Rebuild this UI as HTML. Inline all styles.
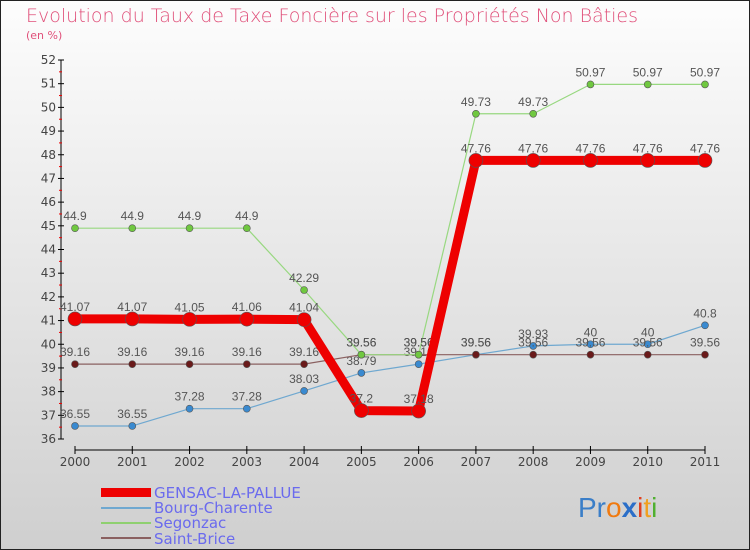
<!DOCTYPE html>
<html><head><meta charset="utf-8"><style>
body{margin:0;width:750px;height:550px;overflow:hidden;font-family:"DejaVu Sans","Liberation Sans",sans-serif}
svg{display:block}
</style></head><body>
<svg id="c" width="750" height="550">
<defs><linearGradient id="bg" x1="0" y1="0" x2="0" y2="1"><stop offset="0" stop-color="#fdfdfd"/><stop offset="1" stop-color="#cfcfcf"/></linearGradient></defs>
<rect x="0" y="0" width="750" height="550" fill="url(#bg)" stroke="#222" stroke-width="2"/>
<text x="26" y="22" font-size="19" fill="#e0507a" font-weight="300">Evolution du Taux de Taxe Foncière sur les Propriétés Non Bâties</text>
<text x="26" y="39" font-size="11" fill="#e0507a">(en %)</text>
<g id="axes"></g><g id="series"></g>
<g>
<rect x="101" y="488" width="50" height="9" fill="#ee0000"/>
<text x="154" y="498" font-size="15" fill="#6a6aee">GENSAC-LA-PALLUE</text>
<rect x="101" y="507" width="50" height="2" fill="#6fa8d0"/>
<text x="154" y="513" font-size="15" fill="#6a6aee">Bourg-Charente</text>
<rect x="101" y="522" width="50" height="2" fill="#8fd070"/>
<text x="154" y="528" font-size="15" fill="#6a6aee">Segonzac</text>
<rect x="101" y="537" width="50" height="2" fill="#8a6060"/>
<text x="154" y="544" font-size="15" fill="#6a6aee">Saint-Brice</text>
</g>
<text x="578" y="517" font-size="28" font-family="Liberation Sans,sans-serif"><tspan fill="#3a7ec8">Pr</tspan><tspan fill="#f07a10">o</tspan><tspan fill="#2a6ec8" font-weight="bold">x</tspan><tspan fill="#e04020">i</tspan><tspan fill="#f0a020">t</tspan><tspan fill="#50b030">i</tspan></text>
</svg>
<script>
const years=[2000,2001,2002,2003,2004,2005,2006,2007,2008,2009,2010,2011];
const yTicks=[36,37,38,39,40,41,42,43,44,45,46,47,48,49,50,51,52];
const gensac=[41.07,41.07,41.05,41.06,41.04,37.2,37.18,47.76,47.76,47.76,47.76,47.76];
const bourg=[36.55,36.55,37.28,37.28,38.03,38.79,39.16,39.56,39.93,40,40,40.8];
const segonzac=[44.9,44.9,44.9,44.9,42.29,39.56,39.56,49.73,49.73,50.97,50.97,50.97];
const saintBrice=[39.16,39.16,39.16,39.16,39.16,39.56,39.56,39.56,39.56,39.56,39.56,39.56];
const NS="http://www.w3.org/2000/svg";
const xS=i=>75+i*(630/11);
const yS=v=>439-(v-36)*(379/16);
function mk(t,a,p){const e=document.createElementNS(NS,t);for(const k in a)e.setAttribute(k,a[k]);p.appendChild(e);return e;}
const ax=document.getElementById('axes');
let l=mk('line',{x1:61,y1:yS(52),x2:61,y2:yS(36),stroke:'#000'},ax);


l=mk('line',{x1:75,y1:450,x2:705,y2:450,stroke:'#000'},ax);


yTicks.forEach(v=>{
 mk('line',{x1:58,y1:yS(v),x2:64,y2:yS(v),stroke:'#000'},ax);
 if(v<52)mk('line',{x1:59,y1:yS(v+0.5),x2:62,y2:yS(v+0.5),stroke:'#e00'},ax);
 const t=mk('text',{x:56,y:yS(v)+4,'font-size':12,'text-anchor':'end',fill:'#444'},ax);t.textContent=v;
 
 
});
years.forEach((y,i)=>{
 mk('line',{x1:xS(i),y1:446,x2:xS(i),y2:454,stroke:'#000'},ax);
 const t=mk('text',{x:xS(i),y:466,'font-size':12,'text-anchor':'middle',fill:'#444'},ax);t.textContent=y;
 
 
});
const sg=document.getElementById('series');
function draw(vals,color,w,r,name,dot){
 const g=mk('g',{},sg);
 
 
 const p=mk('polyline',{points:vals.map((v,i)=>xS(i)+','+yS(v)).join(' '),fill:'none',stroke:color,'stroke-width':w,'stroke-linejoin':'round'},g);
 
 
 vals.forEach((v,i)=>{
  const c=mk('circle',{cx:xS(i),cy:yS(v),r:r,fill:dot,stroke:'#555','stroke-width':0.6},g);
  
  
  const t=mk('text',{x:xS(i),y:yS(v)-8,'font-size':12,'font-family':'Liberation Sans,sans-serif','text-anchor':'middle',fill:'#555'},g);
  t.textContent=v;
  
  
 });
}
draw(bourg,'#6fa8d0',1.2,3.5,'bourg-charente','#3a8ad0');
draw(saintBrice,'#8a6060',1.2,3.5,'saint-brice','#6a1a1a');
draw(segonzac,'#98d880',1.2,3.5,'segonzac','#70c840');
draw(gensac,'#ee0000',9,7,'gensac-la-pallue','#ee0000');
</script>
</body></html>
